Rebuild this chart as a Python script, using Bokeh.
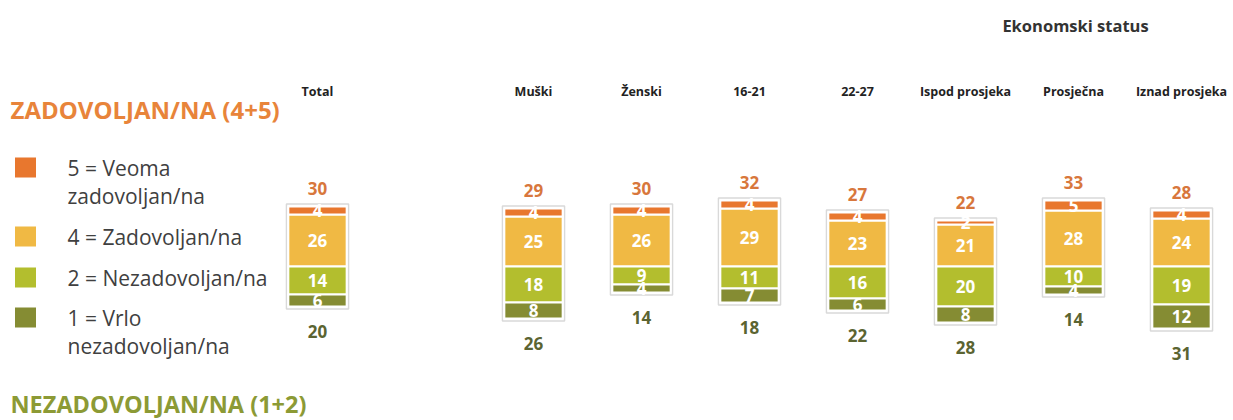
from bokeh.plotting import figure
from bokeh.models import Range1d, ColumnDataSource
from bokeh.core.properties import value
from bokeh.embed import file_html
from bokeh.resources import INLINE

# ---- data ----
categories = ["Total", "Muški", "Ženski", "16-21", "22-27", "Ispod prosjeka", "Prosječna", "Iznad prosjeka"]
positions = [0, 2, 3, 4, 5, 6, 7, 8]
v5 = [4, 4, 4, 4, 4, 2, 5, 4]          # 5 = Veoma zadovoljan/na
v4 = [26, 25, 26, 29, 23, 21, 28, 24]  # 4 = Zadovoljan/na
v2 = [14, 18, 9, 11, 16, 20, 10, 19]   # 2 = Nezadovoljan/na
v1 = [6, 8, 4, 7, 6, 8, 4, 12]         # 1 = Vrlo nezadovoljan/na
top_total = [30, 29, 30, 32, 27, 22, 33, 28]
bottom_total = [20, 26, 14, 18, 22, 28, 14, 31]
legend_labels = [["5 = Veoma", "zadovoljan/na"], ["4 = Zadovoljan/na"], ["2 = Nezadovoljan/na"], ["1 = Vrlo", "nezadovoljan/na"]]
group_title = "Ekonomski status"
title_pos = "ZADOVOLJAN/NA (4+5)"
title_neg = "NEZADOVOLJAN/NA (1+2)"

C5, C4, C2, C1 = "#E8772E", "#F0B944", "#B3BE2E", "#858C33"
C_TOP, C_BOT = "#D8773C", "#5B6431"

W, H = 1233, 420
OFF = 0
PXX = 108.0   # px per category unit
PXY = 2.0     # px per percent
x0 = -(317.0 - OFF) / PXX
y1 = (266.0 - OFF) / PXY

def dx(sx):
    return x0 + (sx - OFF) / PXX

def dy(sy):
    return y1 - (sy - OFF) / PXY

p = figure(width=W, height=H, output_backend="svg", toolbar_location=None,
           x_range=Range1d(x0, x0 + W / PXX), y_range=Range1d(y1 - H / PXY, y1),
           min_border=0)
p.xaxis.visible = False
p.yaxis.visible = False
p.grid.visible = False
p.outline_line_color = None
p.background_fill_color = "white"

FONT = value("Open Sans")

src = ColumnDataSource(dict(
    x=positions,
    t5=[a + b for a, b in zip(v4, v5)],
    t4=v4,
    b2=[-a for a in v2],
    b1=[-(a + b) for a, b in zip(v2, v1)],
))
src.data["ftop"] = [t + 1.2 for t in src.data["t5"]]
src.data["fbot"] = [b - 1.2 for b in src.data["b1"]]
p.vbar(x="x", bottom="fbot", top="ftop", width=0.575, source=src,
       fill_color="white", line_color="#D9D9D9", line_width=1.5)

BW = 0.54
p.vbar(x="x", bottom=0, top="t4", width=BW, source=src, fill_color=C4, line_color="white", line_width=2)
p.vbar(x="x", bottom="t4", top="t5", width=BW, source=src, fill_color=C5, line_color="white", line_width=2)
p.vbar(x="x", bottom="b2", top=0, width=BW, source=src, fill_color=C2, line_color="white", line_width=2)
p.vbar(x="x", bottom="b1", top="b2", width=BW, source=src, fill_color=C1, line_color="white", line_width=2)

# segment labels
lx, ly, lt = [], [], []
for i, x in enumerate(positions):
    lx += [x, x, x, x]
    ly += [v4[i] + v5[i] / 2, v4[i] / 2, -v2[i] / 2, -v2[i] - v1[i] / 2]
    lt += [str(v5[i]), str(v4[i]), str(v2[i]), str(v1[i])]
p.text(x=lx, y=ly, text=lt, text_color="white", text_font=FONT, text_font_style="bold",
       text_font_size="17px", text_align="center", text_baseline="middle")

# totals
p.text(x=positions, y=[a + b + 9 for a, b in zip(v4, v5)], text=[str(t) for t in top_total],
       text_color=C_TOP, text_font=FONT, text_font_style="bold", text_font_size="17px",
       text_align="center", text_baseline="middle")
p.text(x=positions, y=[-(a + b) - 12.5 for a, b in zip(v2, v1)], text=[str(t) for t in bottom_total],
       text_color=C_BOT, text_font=FONT, text_font_style="bold", text_font_size="17px",
       text_align="center", text_baseline="middle")

# header labels
p.text(x=positions, y=[dy(91)] * len(positions), text=categories, text_color="#222222",
       text_font=FONT, text_font_style="bold", text_font_size="12.5px",
       text_align="center", text_baseline="middle")
p.text(x=[dx(1075)], y=[dy(25)], text=[group_title], text_color="#333333",
       text_font=FONT, text_font_style="bold", text_font_size="16.5px",
       text_align="center", text_baseline="middle")

# left titles
p.text(x=[dx(10)], y=[dy(109)], text=[title_pos], text_color="#E8843A",
       text_font=FONT, text_font_style="bold", text_font_size="24px",
       text_align="left", text_baseline="middle")
p.text(x=[dx(10)], y=[dy(403)], text=[title_neg], text_color="#8C9A35",
       text_font=FONT, text_font_style="bold", text_font_size="23.5px",
       text_align="left", text_baseline="middle")

# legend
leg_colors = [C5, C4, C2, C1]
leg_y = [167, 236, 277, 317]
p.rect(x=[dx(25)] * 4, y=[dy(v) for v in leg_y], width=21, height=20,
       width_units="screen", height_units="screen", fill_color=leg_colors, line_color=None)
tx, ty, tt = [], [], []
for lab, yy in zip(legend_labels, leg_y):
    for j, line in enumerate(lab):
        tx.append(dx(67))
        ty.append(dy(yy + 28 * j))
        tt.append(line)
p.text(x=tx, y=ty, text=tt, text_color="#404040", text_font=FONT, text_font_size="21px",
       text_align="left", text_baseline="middle")

open("out.html", "w").write(file_html(p, INLINE))
